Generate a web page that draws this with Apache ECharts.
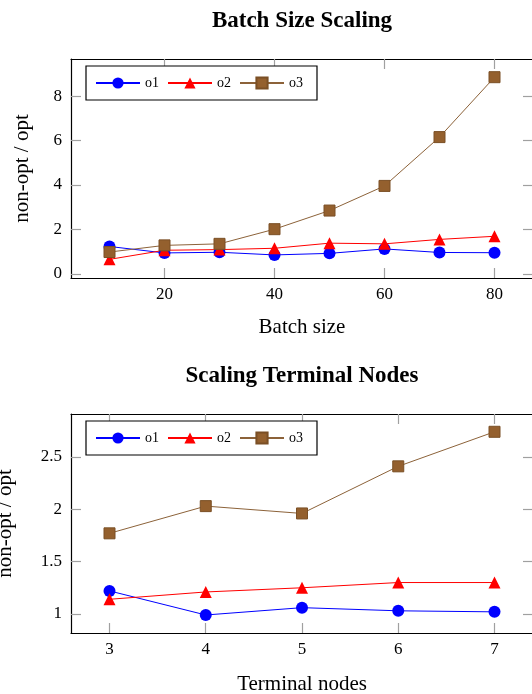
<!DOCTYPE html>
<html>
<head>
<meta charset="utf-8">
<script src="https://cdn.jsdelivr.net/npm/echarts@6/dist/echarts.min.js"></script>
<style>html,body{margin:0;padding:0;background:#fff}#c{width:532px;height:694px}</style>
</head>
<body>
<div id="c"></div>
<script>
// ---- Data: Batch Size Scaling ----
const batchSizes = [10, 20, 30, 40, 50, 60, 70, 80];
const batchO1 = [1.23, 0.94, 0.97, 0.85, 0.92, 1.12, 0.96, 0.95];
const batchO2 = [0.65, 1.06, 1.09, 1.15, 1.38, 1.35, 1.55, 1.69];
const batchO3 = [0.98, 1.28, 1.35, 2.01, 2.85, 3.96, 6.16, 8.86];
const batchXTicks = [20, 40, 60, 80];
const batchYTicks = [0, 2, 4, 6, 8];

// ---- Data: Scaling Terminal Nodes ----
const terminalNodes = [3, 4, 5, 6, 7];
const termO1 = [1.22, 0.99, 1.06, 1.03, 1.02];
const termO2 = [1.14, 1.21, 1.25, 1.30, 1.30];
const termO3 = [1.77, 2.03, 1.96, 2.41, 2.74];
const termXTicks = [3, 4, 5, 6, 7];
const termYTicks = [1, 1.5, 2, 2.5];

const seriesNames = ['o1', 'o2', 'o3'];
const titles = ['Batch Size Scaling', 'Scaling Terminal Nodes'];
const xNames = ['Batch size', 'Terminal nodes'];
const yName = 'non-opt / opt';

const FONT = '"Liberation Serif", "Times New Roman", serif';
const TICK = '#a0a0a0';

function pairs(xs, ys) { return xs.map((x, i) => [x, ys[i]]); }

const styles = [
  { color: '#0000ff', symbol: 'circle', size: 12, border: '#0000ff' },
  { color: '#ff0000', symbol: 'triangle', size: 12, border: '#ff0000' },
  { color: '#8c6239', symbol: 'rect', size: 11, border: '#7a4f25', fill: '#94602e' }
];

function mkSeries(name, idx, data, axisIdx) {
  const s = styles[idx];
  return {
    type: 'line', name: name, data: data,
    xAxisIndex: axisIdx, yAxisIndex: axisIdx,
    symbol: s.symbol, symbolSize: s.size,
    lineStyle: { color: s.color, width: 1 },
    itemStyle: { color: s.fill || s.color, borderColor: s.border, borderWidth: s.fill ? 1 : 0 },
    emphasis: { disabled: true },
    animation: false, z: 3
  };
}

function mainX(grid, min, max, ticks, name, gap) {
  return {
    type: 'value', gridIndex: grid, min: min, max: max, position: 'bottom',
    name: name, nameLocation: 'middle', nameGap: gap,
    nameTextStyle: { fontFamily: FONT, fontSize: 21, color: '#000' },
    axisLine: { show: true, onZero: false, lineStyle: { color: '#000', width: 1.2 } },
    axisTick: { show: true, inside: true, length: 10, customValues: ticks, lineStyle: { color: TICK, width: 1.2 } },
    axisLabel: { show: true, customValues: ticks, margin: 8, fontFamily: FONT, fontSize: 17, color: '#000' },
    splitLine: { show: false }
  };
}
function topX(grid, min, max, ticks) {
  return {
    type: 'value', gridIndex: grid, min: min, max: max, position: 'top',
    axisLine: { show: true, onZero: false, lineStyle: { color: '#000', width: 1.2 } },
    axisTick: { show: true, inside: true, length: 10, customValues: ticks, lineStyle: { color: TICK, width: 1.2 } },
    axisLabel: { show: false }, splitLine: { show: false }
  };
}
function mainY(grid, min, max, ticks, gap) {
  return {
    type: 'value', gridIndex: grid, min: min, max: max, position: 'left',
    name: yName, nameLocation: 'middle', nameGap: gap, nameRotate: 90,
    nameTextStyle: { fontFamily: FONT, fontSize: 21, color: '#000' },
    axisLine: { show: true, onZero: false, lineStyle: { color: '#000', width: 1.2 } },
    axisTick: { show: true, inside: true, length: 10, customValues: ticks, lineStyle: { color: TICK, width: 1.2 } },
    axisLabel: { show: true, customValues: ticks, margin: 9, fontFamily: FONT, fontSize: 17, color: '#000' },
    splitLine: { show: false }
  };
}
function rightY(grid, min, max, ticks) {
  return {
    type: 'value', gridIndex: grid, min: min, max: max, position: 'right',
    axisLine: { show: true, onZero: false, lineStyle: { color: '#000', width: 1.2 } },
    axisTick: { show: true, inside: true, length: 10, customValues: ticks, lineStyle: { color: TICK, width: 1.2 } },
    axisLabel: { show: false }, splitLine: { show: false }
  };
}
function mkLegend(top) {
  return {
    data: seriesNames, left: 86, top: top, orient: 'horizontal',
    itemWidth: 44, itemHeight: 14, itemGap: 8,
    padding: [10, 14, 10, 9],
    borderColor: '#000', borderWidth: 1.2, backgroundColor: '#fff',
    textStyle: { fontFamily: FONT, fontSize: 14, color: '#000' },
    selectedMode: false
  };
}

const chart = echarts.init(document.getElementById('c'), null, { renderer: 'canvas' });
chart.setOption({
  animation: false,
  backgroundColor: '#fff',
  graphic: [
    { type: 'text', x: 302, y: 21, style: { text: titles[0], textAlign: 'center', textVerticalAlign: 'middle', font: 'bold 23px ' + FONT, fill: '#000' } },
    { type: 'text', x: 302, y: 376, style: { text: titles[1], textAlign: 'center', textVerticalAlign: 'middle', font: 'bold 23px ' + FONT, fill: '#000' } }
  ],
  legend: [mkLegend(66), mkLegend(421)],
  grid: [
    { left: 71, top: 59, width: 462, height: 219, outerBoundsMode: 'none', containLabel: false },
    { left: 71, top: 414, width: 462, height: 219, outerBoundsMode: 'none', containLabel: false }
  ],
  xAxis: [
    mainX(0, 3, 87, batchXTicks, xNames[0], 39),
    mainX(1, 2.6, 7.4, termXTicks, xNames[1], 41),
    topX(0, 3, 87, batchXTicks),
    topX(1, 2.6, 7.4, termXTicks)
  ],
  yAxis: [
    mainY(0, -0.19, 9.68, batchYTicks, 38),
    mainY(1, 0.818, 2.91, termYTicks, 55),
    rightY(0, -0.19, 9.68, batchYTicks),
    rightY(1, 0.818, 2.91, termYTicks)
  ],
  series: [
    mkSeries(seriesNames[0], 0, pairs(batchSizes, batchO1), 0),
    mkSeries(seriesNames[1], 1, pairs(batchSizes, batchO2), 0),
    mkSeries(seriesNames[2], 2, pairs(batchSizes, batchO3), 0),
    mkSeries(seriesNames[0], 0, pairs(terminalNodes, termO1), 1),
    mkSeries(seriesNames[1], 1, pairs(terminalNodes, termO2), 1),
    mkSeries(seriesNames[2], 2, pairs(terminalNodes, termO3), 1)
  ]
});
</script>
</body>
</html>
